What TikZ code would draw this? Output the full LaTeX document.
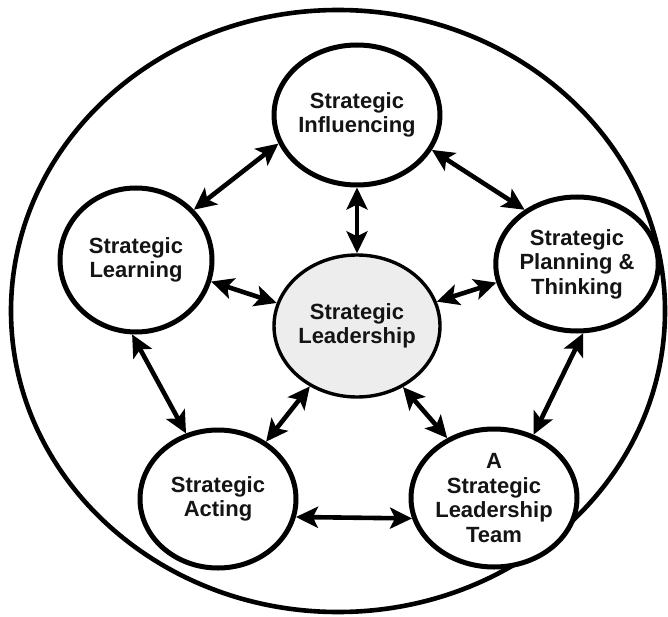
\documentclass[tikz,border=0pt]{standalone}
\usepackage{fontspec}
\setmainfont{Liberation Sans}
\usetikzlibrary{shapes.geometric,arrows.meta}
\begin{document}
\begin{tikzpicture}[x=1pt,y=-1pt,
  bubble/.style={ellipse,draw=black,line width=5pt,fill=white,inner sep=0pt,align=center,
    font=\fontsize{22}{24.5}\selectfont\bfseries,text=black!92},
  hub/.style={bubble,line width=3.4pt,fill=black!7},
  link/.style={line width=4.6pt,{Stealth[length=22pt,width=21pt,inset=5pt]}-{Stealth[length=22pt,width=21pt,inset=5pt]}}]
\useasboundingbox (0,0) rectangle (668,617);
\fill[white] (0,0) rectangle (668,617);
\draw[line width=4.6pt] (338,311) ellipse [x radius=327, y radius=301];
\node[bubble,minimum width=158pt,minimum height=140pt] (inf) at (357,115) {Strategic\\Influencing};
\node[bubble,minimum width=152pt,minimum height=144pt] (lea) at (136,260) {Strategic\\Learning};
\node[bubble,minimum width=150pt,minimum height=134pt] (pla) at (577,264) {Strategic\\Planning \&\\Thinking};
\node[hub,minimum width=154pt,minimum height=142pt] (cen) at (357,326) {Strategic\\Leadership};
\node[bubble,minimum width=156pt,minimum height=138pt] (act) at (218,499) {Strategic\\Acting};
\node[bubble,minimum width=156pt,minimum height=138pt] (team) at (494,498) {A\\Strategic\\Leadership\\Team};
\draw[link] (inf.200.5) -- (lea.41.4);
\draw[link] (inf.335.7) -- (pla.134);
\draw[link] (inf.270) -- (cen.90);
\draw[link] (lea.344) -- (cen.164.4);
\draw[link] (cen.17) -- (pla.193.5);
\draw[link] (lea.267.5) -- (act.116);
\draw[link] (cen.232.7) -- (act.50.3);
\draw[link] (cen.307.3) -- (team.128);
\draw[link] (pla.275) -- (team.58.2);
\draw[link] (act.347) -- (team.194);
\end{tikzpicture}
\end{document}
